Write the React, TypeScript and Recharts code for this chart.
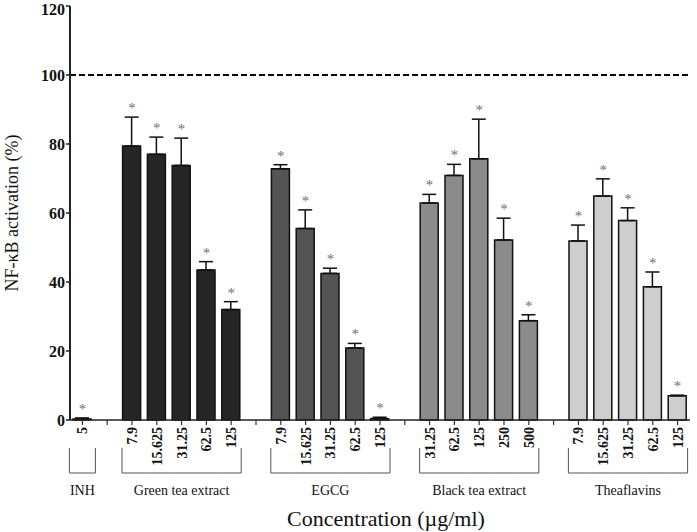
import React from 'react';
import { ComposedChart, Bar, Cell, ErrorBar, Scatter, XAxis, YAxis, ReferenceLine } from 'recharts';

const groupNames = ['INH', 'Green tea extract', 'EGCG', 'Black tea extract', 'Theaflavins'];
const groupColors = ['#222222', '#262626', '#545454', '#8b8b8b', '#cecece'];

const inhConc = ['5'];
const inhValues = [0.3];
const inhErrors = [0.3];

const greenConc = ['7.9', '15.625', '31.25', '62.5', '125'];
const greenValues = [79.4, 77.0, 73.8, 43.5, 32.0];
const greenErrors = [8.4, 5.0, 7.9, 2.4, 2.3];

const egcgConc = ['7.9', '15.625', '31.25', '62.5', '125'];
const egcgValues = [72.8, 55.5, 42.5, 20.9, 0.4];
const egcgErrors = [1.2, 5.4, 1.5, 1.3, 0.4];

const blackConc = ['31.25', '62.5', '125', '250', '500'];
const blackValues = [62.9, 70.9, 75.7, 52.2, 28.8];
const blackErrors = [2.5, 3.2, 11.5, 6.3, 1.7];

const theaConc = ['7.9', '15.625', '31.25', '62.5', '125'];
const theaValues = [51.9, 64.9, 57.8, 38.6, 7.0];
const theaErrors = [4.6, 5.0, 3.7, 4.3, 0.2];

const yTicks = [0, 20, 40, 60, 80, 100, 120];

const groups = [
  { conc: inhConc, values: inhValues, errors: inhErrors },
  { conc: greenConc, values: greenValues, errors: greenErrors },
  { conc: egcgConc, values: egcgValues, errors: egcgErrors },
  { conc: blackConc, values: blackValues, errors: blackErrors },
  { conc: theaConc, values: theaValues, errors: theaErrors },
];

type Row = {
  key: string;
  label: string;
  value: number | null;
  err: number[] | null;
  top: number | null;
  group: number;
  pos: number;
  n: number;
};

const data: Row[] = [];
groups.forEach((g, gi) => {
  if (gi > 0) {
    data.push({ key: 'gap' + gi, label: '', value: null, err: null, top: null, group: -1, pos: 0, n: 0 });
  }
  g.conc.forEach((c, i) => {
    data.push({
      key: gi + '-' + c,
      label: c,
      value: g.values[i],
      err: [0, g.errors[i]],
      top: g.values[i] + g.errors[i],
      group: gi,
      pos: i,
      n: g.conc.length,
    });
  });
});

const FONT = "'Liberation Serif', 'Times New Roman', serif";
const W = 697;
const H = 532;
const MARGIN = { top: 6, right: 7, bottom: 0, left: 0 };
const Y_W = 70;
const SLOT = (W - MARGIN.left - MARGIN.right - Y_W) / data.length;

const XTick = (props: any) => {
  const { x, y, payload } = props;
  const row = data[payload.index];
  if (!row) return null;
  const els: React.ReactNode[] = [];
  if (row.label) {
    els.push(
      <text
        key="t"
        x={x + 5}
        y={y + 2}
        transform={`rotate(-90 ${x + 5} ${y + 2})`}
        textAnchor="end"
        style={{ fontFamily: FONT, fontWeight: 'bold', fontSize: 14 }}
        fill="#111"
      >
        {row.label}
      </text>
    );
  }
  if (row.group >= 0) {
    const ext = row.n === 1 ? 13 : 10;
    const top = y + 23;
    const bot = y + 48;
    const x1 = row.pos === 0 ? x - ext : x - SLOT / 2;
    const x2 = row.pos === row.n - 1 ? x + ext : x + SLOT / 2;
    els.push(<line key="h" x1={x1} x2={x2} y1={bot} y2={bot} stroke="#555" strokeWidth={1} />);
    if (row.pos === 0) els.push(<line key="l" x1={x - ext} x2={x - ext} y1={top} y2={bot} stroke="#555" strokeWidth={1} />);
    if (row.pos === row.n - 1) els.push(<line key="r" x1={x + ext} x2={x + ext} y1={top} y2={bot} stroke="#555" strokeWidth={1} />);
    if (row.pos === Math.floor(row.n / 2)) {
      els.push(
        <text key="g" x={x} y={y + 70} textAnchor="middle" style={{ fontFamily: FONT, fontSize: 14 }} fill="#111">
          {groupNames[row.group]}
        </text>
      );
    }
  }
  return <g>{els}</g>;
};

const YTick = (props: any) => {
  const { x, y, payload } = props;
  return (
    <text x={x} y={y + 5.5} textAnchor="end" style={{ fontFamily: FONT, fontWeight: 'bold', fontSize: 16 }} fill="#111">
      {payload.value}
    </text>
  );
};

const Star = (props: any) => {
  const { cx, cy, payload } = props;
  if (payload == null || payload.top == null || cy == null || isNaN(cy)) return null;
  return (
    <text x={cx} y={cy - 4} textAnchor="middle" style={{ fontFamily: FONT, fontSize: 15 }} fill="#707070">
      *
    </text>
  );
};

const XLabel = (props: any) => {
  const vb = props.viewBox || {};
  return (
    <text x={vb.x + vb.width / 2 + 6} y={vb.y + 106} textAnchor="middle" style={{ fontFamily: FONT, fontSize: 22 }} fill="#111">
      Concentration (µg/ml)
    </text>
  );
};

const YLabel = (props: any) => {
  const vb = props.viewBox || {};
  const cy = vb.y + vb.height / 2;
  return (
    <text
      x={18}
      y={cy}
      transform={`rotate(-90 18 ${cy})`}
      textAnchor="middle"
      style={{ fontFamily: FONT, fontSize: 18 }}
      fill="#111"
    >
      NF-κB activation (%)
    </text>
  );
};

export default function App() {
  return (
    <div style={{ position: 'absolute', left: 0, top: 0, width: W, height: H, background: '#fff', fontFamily: FONT }}>
      <ComposedChart width={W} height={H} data={data} margin={MARGIN} barCategoryGap={0} style={{ fontFamily: FONT }}>
        <XAxis
          dataKey="key"
          interval={0}
          height={112}
          tick={<XTick />}
          tickSize={5}
          tickMargin={0}
          axisLine={{ stroke: '#222', strokeWidth: 1.5 }}
          tickLine={{ stroke: '#333', strokeWidth: 1.2 }}
          label={<XLabel />}
        />
        <YAxis
          domain={[0, 120]}
          ticks={yTicks}
          width={Y_W}
          tickSize={4}
          tickMargin={1}
          axisLine={{ stroke: '#222', strokeWidth: 2 }}
          tickLine={{ stroke: '#222', strokeWidth: 1.5 }}
          tick={<YTick />}
          label={<YLabel />}
        />
        <ReferenceLine y={100} stroke="#000" strokeWidth={2} strokeDasharray="6 3" />
        <Bar dataKey="value" barSize={18} stroke="#111" strokeWidth={1.5} isAnimationActive={false}>
          {data.map((d, i) => (
            <Cell key={i} fill={d.group >= 0 ? groupColors[d.group] : '#fff'} />
          ))}
          <ErrorBar dataKey="err" width={7} stroke="#111" strokeWidth={1.5} direction="y" />
        </Bar>
        <Scatter dataKey="top" shape={<Star />} isAnimationActive={false} />
      </ComposedChart>
    </div>
  );
}
